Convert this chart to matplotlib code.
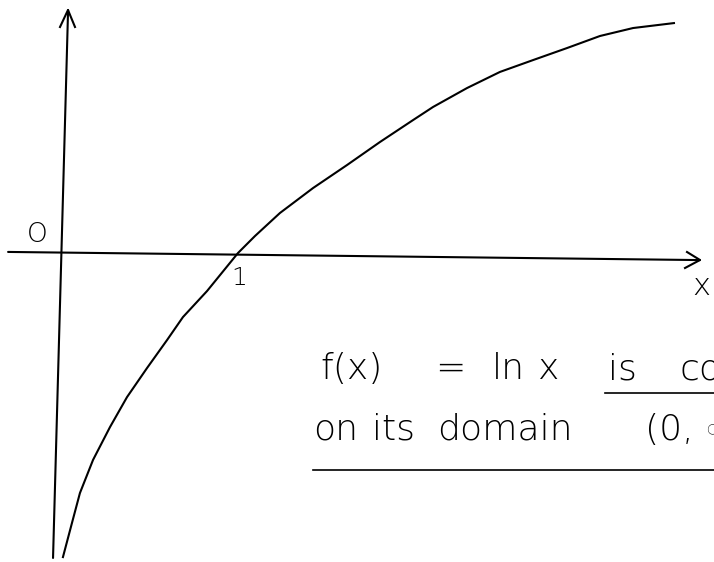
import matplotlib
matplotlib.use("Agg")
import matplotlib.pyplot as plt

# Hand-sketched graph of f(x) = ln x (units: 1 = the mark "1")
curve_x = [0.011, 0.062, 0.107, 0.181, 0.277, 0.373, 0.486, 0.599, 0.689, 0.825,
           1.000, 1.096, 1.237, 1.424, 1.616, 1.802, 1.989, 2.102, 2.294,
           2.480, 2.667, 2.859, 3.045, 3.232, 3.463]
curve_y = [-1.718, -1.525, -1.356, -1.169, -0.983, -0.814, -0.650, -0.492, -0.362, -0.215,
           0.000, 0.096, 0.226, 0.367, 0.497, 0.627, 0.751, 0.825, 0.932,
           1.023, 1.090, 1.158, 1.226, 1.271, 1.299]

# Hand-drawn axes (slightly tilted strokes)
x_axis_x = [-0.299, 3.610]
x_axis_y = [0.006, -0.040]
y_axis_x = [-0.045, 0.040]
y_axis_y = [-1.723, 1.373]

origin_label = "O"
unit_label = "1"
axis_label = "x"
line1_tokens = ["f(x)", "=", "ln", "x", "is", "concave"]
line2_tokens = ["on", "its", "domain", "(0, ∞)"]

W, H = 714, 562
DPI = 100
fig = plt.figure(figsize=(W / DPI, H / DPI), dpi=DPI, facecolor="white")

# main drawing area: 177 px per unit, origin at pixel (61, 253)
PX = 177.0
OX, OY = 61.0, 253.0
ax = fig.add_axes([0, 0, 1, 1])
ax.set_xlim(-OX / PX, (W - OX) / PX)
ax.set_ylim((OY - H) / PX, OY / PX)
ax.axis("off")

ink = "#000000"
lw = 1.5

ax.plot(x_axis_x, x_axis_y, color=ink, lw=lw, solid_capstyle="round")
ax.plot(y_axis_x, y_axis_y, color=ink, lw=lw, solid_capstyle="round")
ax.plot(curve_x, curve_y, color=ink, lw=lw, solid_joinstyle="round")

# overlay in pixel coordinates for arrow heads, labels and underlines
ov = fig.add_axes([0, 0, 1, 1])
ov.set_xlim(0, W)
ov.set_ylim(H, 0)
ov.axis("off")
ov.patch.set_alpha(0)

# arrow heads
ov.plot([60, 68, 75], [27, 10, 27], color=ink, lw=lw, solid_joinstyle="round")
ov.plot([687, 700, 685], [252, 260, 268], color=ink, lw=lw, solid_joinstyle="round")

fam = ["DejaVu Sans", "Lato"]
tk = dict(color=ink, family=fam, fontweight="light")

ov.text(37.5, 234, origin_label, fontsize=19, ha="center", va="center", **tk)
ov.text(239, 278, unit_label, fontsize=18, ha="center", va="center", **tk)
ov.text(692, 295, axis_label, fontsize=22, ha="left", va="baseline", **tk)

fs = 26
line1_x = [320, 435, 492, 538, 608, 680]
for t, xp in zip(line1_tokens, line1_x):
    ov.text(xp, 379, t, fontsize=fs, ha="left", va="baseline", **tk)

line2_x = [313, 372, 437, 645]
for t, xp in zip(line2_tokens, line2_x):
    ov.text(xp, 440, t, fontsize=fs, ha="left", va="baseline", **tk)

# underlines
ov.plot([605, 714], [393, 393], color=ink, lw=1.2)
ov.plot([313, 714], [470, 470], color=ink, lw=1.2)

fig.savefig("out.png", dpi=DPI, facecolor="white")
